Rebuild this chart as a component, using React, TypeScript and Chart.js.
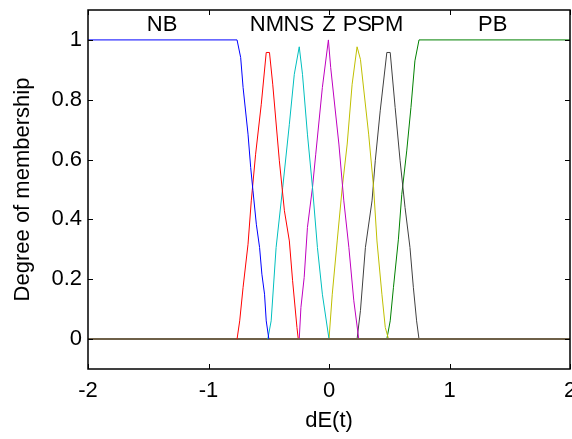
import React, { useEffect, useRef } from "react";
import { Chart, registerables } from "chart.js";

Chart.register(...registerables);

// Membership functions (x positions and degree values)
const NB_X = [-2, -0.763, -0.733, -0.713, -0.672, -0.65, -0.631, -0.603, -0.576, -0.557, -0.535, -0.521, -0.499, 2];
const NB_Y = [1, 1, 0.941, 0.841, 0.685, 0.574, 0.496, 0.384, 0.306, 0.217, 0.15, 0.061, 0, 0];

const NM_X = [-2, -0.763, -0.741, -0.713, -0.672, -0.645, -0.609, -0.562, -0.521, -0.494, -0.467, -0.412, -0.37, -0.329, -0.302, -0.266, -0.255, 2];
const NM_Y = [0, 0, 0.061, 0.173, 0.317, 0.462, 0.618, 0.785, 0.958, 0.958, 0.852, 0.596, 0.429, 0.328, 0.195, 0.039, 0, 0];

const NS_X = [-2, -0.508, -0.48, -0.439, -0.384, -0.329, -0.288, -0.247, -0.22, -0.179, -0.137, -0.096, -0.055, 0, 2];
const NS_Y = [0, 0, 0.061, 0.306, 0.507, 0.718, 0.885, 0.977, 0.885, 0.685, 0.507, 0.306, 0.15, 0, 0];

const Z_X = [-2, -0.247, -0.233, -0.206, -0.179, -0.137, -0.11, -0.055, -0.005, 0.014, 0.082, 0.123, 0.165, 0.206, 0.247, 2];
const Z_Y = [0, 0, 0.106, 0.206, 0.373, 0.507, 0.618, 0.841, 1.0, 0.908, 0.652, 0.462, 0.306, 0.128, 0, 0];

const PS_X = [-2, 0, 0.027, 0.068, 0.11, 0.151, 0.192, 0.233, 0.261, 0.329, 0.37, 0.398, 0.439, 0.467, 0.494, 2];
const PS_Y = [0, 0, 0.15, 0.328, 0.507, 0.652, 0.852, 0.977, 0.935, 0.685, 0.507, 0.328, 0.15, 0.039, 0, 0];

const PM_X = [-2, 0.233, 0.261, 0.302, 0.357, 0.384, 0.425, 0.48, 0.508, 0.549, 0.59, 0.631, 0.672, 0.7, 0.727, 0.747, 2];
const PM_Y = [0, 0, 0.095, 0.306, 0.462, 0.596, 0.763, 0.958, 0.958, 0.774, 0.596, 0.44, 0.306, 0.173, 0.061, 0, 0];

const PB_X = [-2, 0.48, 0.508, 0.535, 0.576, 0.604, 0.645, 0.68, 0.713, 0.747, 2];
const PB_Y = [0, 0, 0.061, 0.173, 0.334, 0.484, 0.629, 0.774, 0.93, 1, 1];

const MF_NAMES = ["NB", "NM", "NS", "Z", "PS", "PM", "PB"];
const MF_LABEL_X = [-1.385, -0.515, -0.25, 0, 0.235, 0.48, 1.358];
const MF_LABEL_Y = 1.03;
const MF_COLORS = ["#0000ff", "#ff0000", "#00bfbf", "#bf00bf", "#bfbf00", "#404040", "#008000"];

const X_TICKS = [-2, -1, 0, 1, 2];
const Y_TICKS = [0, 0.2, 0.4, 0.6, 0.8, 1];
const X_TITLE = "dE(t)";
const Y_TITLE = "Degree of membership";

const SERIES_X = [NB_X, NM_X, NS_X, Z_X, PS_X, PM_X, PB_X];
const SERIES_Y = [NB_Y, NM_Y, NS_Y, Z_Y, PS_Y, PM_Y, PB_Y];

const FONT = "'Liberation Sans', Arial, Helvetica, sans-serif";

const framePlugin = {
  id: "matlabFrame",
  afterDraw(chart: any) {
    const { ctx, chartArea: a, scales } = chart;
    const x = scales.x;
    const y = scales.y;
    ctx.save();
    ctx.strokeStyle = "#000";
    ctx.lineWidth = 1.5;
    ctx.strokeRect(a.left, a.top, a.right - a.left, a.bottom - a.top);
    ctx.lineWidth = 1;
    const tl = 5;
    ctx.beginPath();
    X_TICKS.forEach((v) => {
      const px = Math.round(x.getPixelForValue(v)) + 0.5;
      ctx.moveTo(px, a.bottom);
      ctx.lineTo(px, a.bottom - tl);
      ctx.moveTo(px, a.top);
      ctx.lineTo(px, a.top + tl);
    });
    Y_TICKS.forEach((v) => {
      const py = Math.round(y.getPixelForValue(v)) + 0.5;
      ctx.moveTo(a.left, py);
      ctx.lineTo(a.left + tl, py);
      ctx.moveTo(a.right, py);
      ctx.lineTo(a.right - tl, py);
    });
    ctx.stroke();
    ctx.fillStyle = "#000";
    ctx.font = `22px ${FONT}`;
    ctx.textAlign = "center";
    ctx.textBaseline = "alphabetic";
    MF_NAMES.forEach((n, i) => {
      ctx.fillText(n, x.getPixelForValue(MF_LABEL_X[i]), y.getPixelForValue(MF_LABEL_Y));
    });
    ctx.restore();
  },
};

export default function App() {
  const ref = useRef<HTMLCanvasElement>(null);
  useEffect(() => {
    if (!ref.current) return;
    const datasets = MF_NAMES.map((name, i) => ({
      label: name,
      data: SERIES_X[i].map((xv, j) => ({ x: xv, y: SERIES_Y[i][j] })),
      borderColor: MF_COLORS[i],
      backgroundColor: MF_COLORS[i],
      borderWidth: 1,
      pointRadius: 0,
      tension: 0,
      fill: false,
      segment: {
        borderColor: (c: any) =>
          c.p0.parsed.y === 0 && c.p1.parsed.y === 0 ? "#6f6049" : undefined,
        borderWidth: (c: any) =>
          c.p0.parsed.y === 0 && c.p1.parsed.y === 0 ? 1.5 : undefined,
      },
    }));
    const chart = new Chart(ref.current, {
      type: "line",
      data: { datasets },
      options: {
        animation: false,
        responsive: false,
        devicePixelRatio: 1,
        layout: { padding: { top: 10, right: 2, left: 0, bottom: 0 } },
        plugins: { legend: { display: false }, tooltip: { enabled: false } },
        scales: {
          x: {
            type: "linear",
            min: -2,
            max: 2,
            afterBuildTicks: (s: any) => {
              s.ticks = X_TICKS.map((v) => ({ value: v }));
            },
            afterFit: (s: any) => {
              s.height = 70;
              s.paddingLeft = 0;
              s.paddingRight = 0;
            },
            grid: { display: false, drawTicks: false },
            border: { display: false },
            ticks: {
              autoSkip: false,
              maxRotation: 0,
              padding: 9,
              color: "#000",
              font: { family: FONT, size: 22 },
              callback: (v: any) => String(Math.round(Number(v) * 10) / 10),
            },
            title: {
              display: true,
              text: X_TITLE,
              color: "#000",
              font: { family: FONT, size: 22 },
              padding: { top: 0, bottom: 5 },
            },
          },
          y: {
            type: "linear",
            min: -0.1,
            max: 1.1,
            afterBuildTicks: (s: any) => {
              s.ticks = Y_TICKS.map((v) => ({ value: v }));
            },
            afterFit: (s: any) => {
              s.width = 88;
              s.paddingTop = 0;
              s.paddingBottom = 0;
            },
            grid: { display: false, drawTicks: false },
            border: { display: false },
            ticks: {
              padding: 6,
              color: "#000",
              font: { family: FONT, size: 22 },
              callback: (v: any) => String(Math.round(Number(v) * 10) / 10),
            },
            title: {
              display: true,
              text: Y_TITLE,
              color: "#000",
              font: { family: FONT, size: 22 },
              padding: { top: 10, bottom: 0 },
            },
          },
        },
      },
      plugins: [framePlugin],
    });
    return () => chart.destroy();
  }, []);
  return (
    <div style={{ position: "absolute", left: 0, top: 0, width: 572, height: 439, background: "#fff" }}>
      <canvas ref={ref} width={572} height={439} style={{ display: "block" }} />
    </div>
  );
}
